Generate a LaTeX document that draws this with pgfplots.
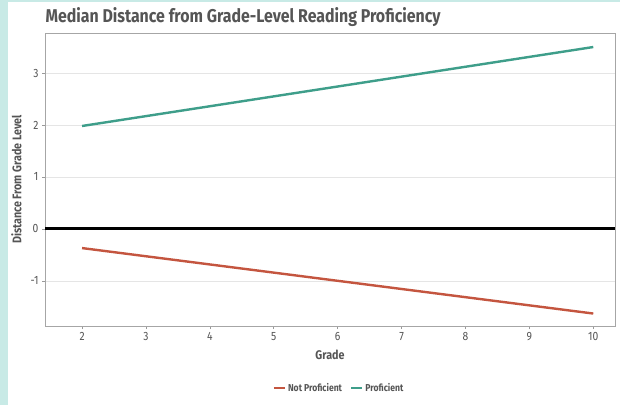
\documentclass[border=0pt]{standalone}
\usepackage{pgfplots}
\pgfplotsset{compat=1.18}
\usepackage{fontspec}
\setmainfont{Fira Sans}[FakeStretch=0.86]
\definecolor{profc}{HTML}{3E9E8A}
\definecolor{notc}{HTML}{C4553F}
\definecolor{txtc}{HTML}{555555}
\definecolor{bgc}{HTML}{C8EAE6}

\begin{document}
\begin{tikzpicture}[x=1pt,y=1pt]
\fill[bgc] (0,0) rectangle (620,405);
\fill[white] (8,0) rectangle (620,403);
\path[use as bounding box] (0,0) rectangle (620,405);
\node[anchor=west, text=txtc, font=\fontsize{18.5}{20}\selectfont\bfseries] at (42,388) {Median Distance from Grade-Level Reading Proficiency};
\begin{axis}[
  at={(45pt,79pt)}, anchor=south west,
  width=570pt, height=293pt, scale only axis,
  xmin=1.42, xmax=10.34, ymin=-1.87, ymax=3.77,
  xtick={2,...,10}, ytick={-1,0,1,2,3},
  ymajorgrids, grid style={draw=black!10, line width=0.6pt},
  axis line style={draw=black!35, line width=0.8pt},
  tick style={draw=black!40, line width=0.6pt},
  tick align=outside, major tick length=3pt,
  xtick pos=bottom, ytick pos=left,
  ticklabel style={text=txtc, font=\fontsize{12}{13}\selectfont},
  /pgf/number format/assume math mode=true,
  xlabel={Grade}, ylabel={Distance From Grade Level},
  label style={text=txtc, font=\fontsize{12.5}{13}\selectfont\bfseries},
  xlabel style={yshift=-2pt},
  ylabel style={yshift=2pt},
  legend style={at={(0.5,-0.212)}, anchor=center, xshift=9pt, draw=none, fill=none,
    font=\fontsize{10}{11}\selectfont\bfseries, text=txtc,
    /tikz/every even column/.append style={column sep=6pt}},
  legend columns=2,
  legend image code/.code={\draw[#1, line width=2.4pt] (0pt,0pt) -- (11pt,0pt);},
]
\addplot[black, line width=3pt, forget plot] coordinates {(1.42,0) (10.34,0)};
\addplot[notc, line width=2.4pt] coordinates {(2,-0.37) (10,-1.63)};
\addlegendentry{Not Proficient}
\addplot[profc, line width=2.4pt] coordinates {(2,1.98) (10,3.50)};
\addlegendentry{Proficient}
\end{axis}
\end{tikzpicture}
\end{document}
